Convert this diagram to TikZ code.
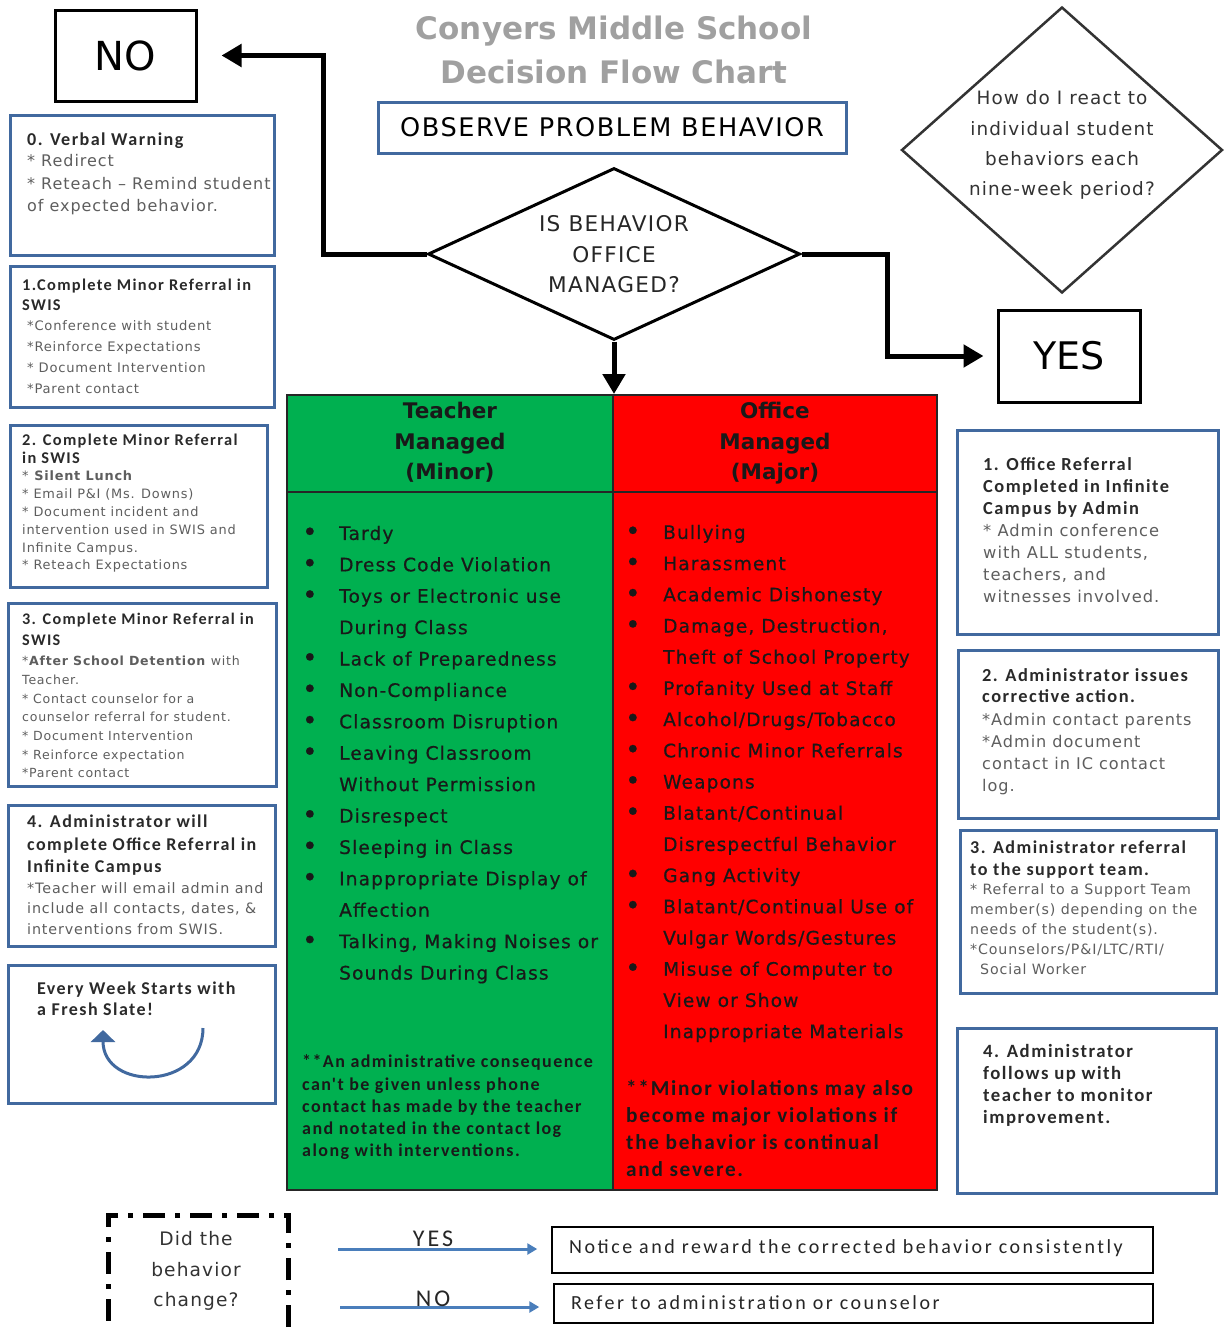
\documentclass[tikz,border=0pt]{standalone}
\usepackage{fontspec}
\setmainfont{DejaVu Sans}
\newfontfamily\bodyf{DejaVu Sans}[LetterSpace=6]
\newfontfamily\listf{DejaVu Sans}[LetterSpace=6, FakeBold=0.6]
\newfontfamily\calb{Carlito}[LetterSpace=8]
\newfontfamily\caliLS{Carlito}[LetterSpace=12.5]
\usetikzlibrary{arrows.meta,shapes.geometric}
\definecolor{boxblue}{HTML}{41699F}
\definecolor{tgreen}{HTML}{00B050}
\definecolor{tred}{HTML}{FF0000}
\definecolor{titlegray}{HTML}{A0A0A0}
\definecolor{bodygray}{HTML}{5E5E5E}
\definecolor{headdark}{HTML}{2A2A2A}
\definecolor{arrowblue}{HTML}{4A7EBB}
\newcommand{\fsz}[2]{\fontsize{#1}{#2}\selectfont}
\newcommand{\bul}[1]{\makebox[#1][l]{\raisebox{-1pt}{\fontsize{26}{26}\selectfont •}}}
\tikzset{
  bluebox/.style={draw=boxblue, line width=3pt, rectangle, inner sep=0pt},
  blackbox/.style={draw=black, line width=3pt, rectangle, inner sep=0pt},
  txt/.style={inner sep=0pt, anchor=north west, align=left},
  ctxt/.style={inner sep=0pt, anchor=north, align=center},
  bigarrow/.style={line width=5pt, -{Triangle[length=20pt,width=22pt]}},
  bluearrow/.style={draw=arrowblue, line width=3pt, -{Triangle[length=10pt,width=11pt]}},
  cell/.style={rectangle, draw=black!85, line width=2pt, inner sep=0pt},
}
\begin{document}
\begin{tikzpicture}[x=1pt,y=-1pt]
\useasboundingbox (0,0) rectangle (1224,1328);
\fill[white] (0,0) rectangle (1224,1328);

% title
\node[ctxt, font=\bfseries\fsz{31}{44}, text=titlegray] (title) at (614,15.6) {Conyers Middle School\\Decision Flow Chart};

% top boxes
\node[blackbox, minimum width=141pt, minimum height=91pt, font=\fsz{40}{44}] (no) at (125.5,55.5) {NO};
\node[bluebox, minimum width=468pt, minimum height=51pt, font=\bodyf\fsz{25.6}{28}] (obs) at (612,127.5) {OBSERVE PROBLEM BEHAVIOR};
\node[blackbox, minimum width=142pt, minimum height=92pt, font=\fsz{38}{42}] (yes) at (1069,356) {YES};

% main diamond
\node[diamond, draw=black, line width=3pt, minimum width=372pt, minimum height=172pt, inner sep=0pt] (d1) at (614,254) {};
\node[ctxt, font=\bodyf\fsz{21.6}{30.5}, text=black!85] (d1t) at (614,215.4) {IS BEHAVIOR\\OFFICE\\MANAGED?};

% right diamond
\node[diamond, draw=black!80, line width=2.5pt, minimum width=321pt, minimum height=286pt, inner sep=0pt] (d2) at (1062,150) {};
\node[ctxt, font=\bodyf\fsz{18.4}{30.3}, text=black!80] (d2t) at (1062,90.6) {How do I react to\\individual student\\behaviors each\\nine-week period?};

% table
\node[cell, fill=tgreen, minimum width=326pt, minimum height=97pt] (gh) at (450,443.5) {};
\node[cell, fill=tgreen, minimum width=326pt, minimum height=698pt] (gb) at (450,841) {};
\node[cell, fill=tred, minimum width=324pt, minimum height=97pt] (rh) at (775,443.5) {};
\node[cell, fill=tred, minimum width=324pt, minimum height=698pt] (rb) at (775,841) {};

\node[ctxt, font=\bfseries\fsz{21.5}{30.5}, text=black!90] (ght) at (450,402.4) {Teacher\\Managed\\(Minor)};
\node[ctxt, font=\bfseries\fsz{21.5}{30.5}, text=black!90] (rht) at (775,402.4) {Office\\Managed\\(Major)};

\node[txt, font=\listf\fsz{18.6}{31.4}, text=black!90] (gl) at (302,525.6) {%
\bul{37pt}Tardy\\
\bul{37pt}Dress Code Violation\\
\bul{37pt}Toys or Electronic use\\
\hspace*{37pt}During Class\\
\bul{37pt}Lack of Preparedness\\
\bul{37pt}Non-Compliance\\
\bul{37pt}Classroom Disruption\\
\bul{37pt}Leaving Classroom\\
\hspace*{37pt}Without Permission\\
\bul{37pt}Disrespect\\
\bul{37pt}Sleeping in Class\\
\bul{37pt}Inappropriate Display of\\
\hspace*{37pt}Affection\\
\bul{37pt}Talking, Making Noises or\\
\hspace*{37pt}Sounds During Class};

\node[txt, font=\listf\fsz{18.6}{31.2}, text=black!90] (rl) at (625,524.6) {%
\bul{38pt}Bullying\\
\bul{38pt}Harassment\\
\bul{38pt}Academic Dishonesty\\
\bul{38pt}Damage, Destruction,\\
\hspace*{38pt}Theft of School Property\\
\bul{38pt}Profanity Used at Staff\\
\bul{38pt}Alcohol/Drugs/Tobacco\\
\bul{38pt}Chronic Minor Referrals\\
\bul{38pt}Weapons\\
\bul{38pt}Blatant/Continual\\
\hspace*{38pt}Disrespectful Behavior\\
\bul{38pt}Gang Activity\\
\bul{38pt}Blatant/Continual Use of\\
\hspace*{38pt}Vulgar Words/Gestures\\
\bul{38pt}Misuse of Computer to\\
\hspace*{38pt}View or Show\\
\hspace*{38pt}Inappropriate Materials};

\node[txt, font=\calb\bfseries\fsz{18}{22.2}, text=black!90] (gn) at (302,1054.8) {**An administrative consequence\\can't be given unless phone\\contact has made by the teacher\\and notated in the contact log\\along with interventions.};
\node[txt, font=\calb\bfseries\fsz{21.3}{26.7}, text=black!90] (rn) at (626,1080.5) {**Minor violations may also\\become major violations if\\the behavior is continual\\and severe.};

% connectors
\draw[bigarrow] (d1.west) -- (323,254) |- ([xshift=24pt]no.east);
\draw[bigarrow] (d1.east) -- (887,254) |- ([xshift=-13pt]yes.west);
\draw[bigarrow] (d1.south) -- (gh.north -| d1.south);

% left boxes
\node[bluebox, minimum width=264pt, minimum height=140pt] (b0) at (142,185) {};
\node[txt, font=\calb\bfseries\fsz{18.1}{22}, text=headdark] (b0t) at (27,132.8) {0. Verbal Warning};
\node[txt, font=\bodyf\fsz{16}{22.5}, text=bodygray] (b0b) at (27,154.6) {* Redirect\\* Reteach – Remind student\\of expected behavior.};

\node[bluebox, minimum width=264pt, minimum height=141pt] (b1) at (142,336.5) {};
\node[txt, font=\calb\bfseries\fsz{16.4}{20}, text=headdark] (b1t) at (22,278.4) {1.Complete Minor Referral in\\SWIS};
\node[txt, font=\bodyf\fsz{13.1}{21}, text=bodygray] (b1b) at (27,320.8) {*Conference with student\\*Reinforce Expectations\\* Document Intervention\\*Parent contact};

\node[bluebox, minimum width=257pt, minimum height=162pt] (b2) at (138.5,506) {};
\node[txt, font=\calb\bfseries\fsz{16.4}{18}, text=headdark] (b2t) at (22,433.4) {2. Complete Minor Referral\\in SWIS};
\node[txt, font=\bodyf\fsz{12.9}{17.8}, text=bodygray] (b2b) at (22,470.8) {* \textbf{Silent Lunch}\\* Email P\&I (Ms. Downs)\\* Document incident and\\intervention used in SWIS and\\Infinite Campus.\\* Reteach Expectations};

\node[bluebox, minimum width=268pt, minimum height=183pt] (b3) at (142,694.5) {};
\node[txt, font=\calb\bfseries\fsz{16.2}{21}, text=headdark] (b3t) at (22,612.5) {3. Complete Minor Referral in\\SWIS};
\node[txt, font=\bodyf\fsz{12.55}{18.7}, text=bodygray] (b3b) at (22,656) {*\textbf{After School Detention} with\\Teacher.\\* Contact counselor for a\\counselor referral\ for student.\\* Document Intervention\\* Reinforce expectation\\*Parent contact};

\node[bluebox, minimum width=267pt, minimum height=141pt] (b4) at (141.5,875.5) {};
\node[txt, font=\calb\bfseries\fsz{18}{22.5}, text=headdark] (b4t) at (27,814.8) {4. Administrator will\\complete Office Referral in\\Infinite Campus};
\node[txt, font=\bodyf\fsz{14.3}{20.5}, text=bodygray] (b4b) at (27,882.3) {*Teacher will email admin and\\include all contacts, dates, \&\\interventions from SWIS.};

\node[bluebox, minimum width=267pt, minimum height=138pt] (b5) at (141.5,1034) {};
\node[txt, font=\calb\bfseries\fsz{18}{21}, text=headdark] (b5t) at (37,981.8) {Every Week Starts with\\a Fresh Slate!};
\coordinate (ca1) at (203,1028);
\coordinate (ca2) at (103,1030);
\draw[draw=boxblue, line width=3pt, -{Triangle[length=12pt,width=24pt]}] (ca1) .. controls (203,1091) and (103,1091) .. (ca2);

% right boxes
\node[bluebox, minimum width=261pt, minimum height=204pt] (r1) at (1087.5,532) {};
\node[txt, font=\calb\bfseries\fsz{18.4}{22}, text=headdark] (r1t) at (983,457.6) {1. Office Referral\\Completed in Infinite\\Campus by Admin};
\node[txt, font=\bodyf\fsz{16.3}{22.3}, text=bodygray] (r1b) at (983,523.5) {* Admin conference\\with ALL students,\\teachers, and\\witnesses involved.};

\node[bluebox, minimum width=260pt, minimum height=168pt] (r2) at (1088,734) {};
\node[txt, font=\calb\bfseries\fsz{18.4}{21}, text=headdark] (r2t) at (982,668.6) {2. Administrator issues\\corrective action.};
\node[txt, font=\bodyf\fsz{16.1}{22}, text=bodygray] (r2b) at (982,712.6) {*Admin contact parents\\*Admin document\\contact in IC contact\\log.};

\node[bluebox, minimum width=256pt, minimum height=163pt] (r3) at (1088,911.5) {};
\node[txt, font=\calb\bfseries\fsz{18.1}{22}, text=headdark] (r3t) at (970,840.8) {3. Administrator referral\\to the support team.};
\node[txt, font=\bodyf\fsz{14.2}{20}, text=bodygray] (r3b) at (970,883.3) {* Referral to a Support Team\\member(s) depending on the\\needs of the student(s).\\*Counselors/P\&I/LTC/RTI/\\\hspace*{10pt}Social Worker};

\node[bluebox, minimum width=259pt, minimum height=165pt] (r4) at (1086.5,1110.5) {};
\node[txt, font=\calb\bfseries\fsz{18.75}{22}, text=headdark] (r4t) at (983,1044.5) {4. Administrator\\follows up with\\teacher to monitor\\improvement.};

% bottom
\node[rectangle, draw=black, line width=5pt, dash pattern=on 22pt off 10pt on 5pt off 10pt, minimum width=180pt, minimum height=120pt, inner sep=0pt] (chg) at (198,1275) {};
\node[ctxt, font=\bodyf\fsz{18.6}{30.5}, text=black!80] (chgt) at (196,1231.6) {Did the\\behavior\\change?};

\node[rectangle, draw=black, line width=1.5pt, minimum width=601pt, minimum height=46pt, inner sep=0pt] (notice) at (852.5,1250) {};
\node[anchor=west, inner sep=0pt, font=\caliLS\fsz{20}{24}, text=black!85] (noticet) at (569,1248) {Notice and reward the corrected behavior consistently};
\node[rectangle, draw=black, line width=1.5pt, minimum width=599pt, minimum height=39pt, inner sep=0pt] (refer) at (853.5,1303.5) {};
\node[anchor=west, inner sep=0pt, font=\caliLS\fsz{20}{24}, text=black!85] (refert) at (571,1303) {Refer to administration or counselor};

\coordinate (ya) at (338,1249);
\coordinate (na) at (340,1307);
\draw[bluearrow, shorten >=14pt] (ya) -- (ya -| notice.west);
\draw[bluearrow, shorten >=14pt] (na) -- (na -| refer.west);
\node[font=\caliLS\fsz{24}{26}, text=black!85, inner sep=0pt] (yl) at (433,1239) {YES};
\node[font=\caliLS\fsz{24}{26}, text=black!85, inner sep=0pt] (nl) at (433,1299) {NO};
\end{tikzpicture}
\end{document}
